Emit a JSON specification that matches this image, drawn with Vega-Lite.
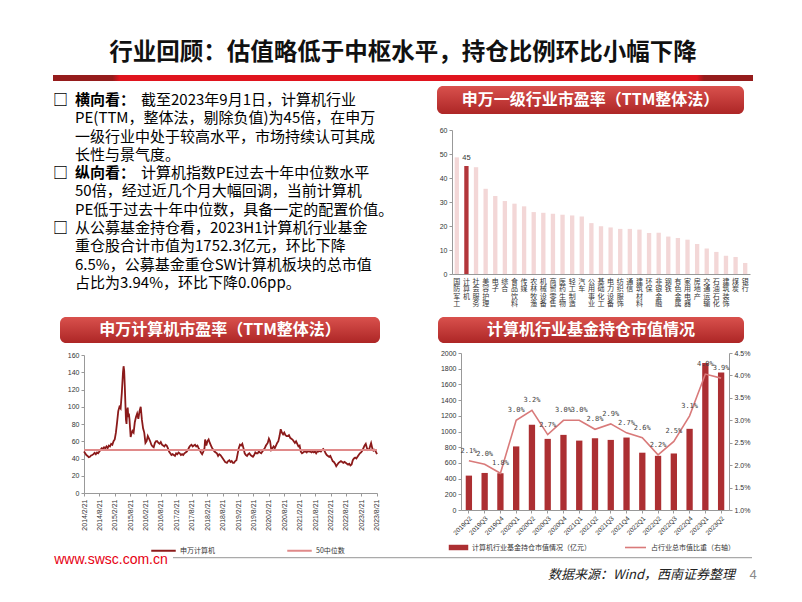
{
  "$schema": "https://vega.github.io/schema/vega-lite/v6.json",
  "padding": {"left": 53, "top": 31, "right": 0, "bottom": 0},
  "background": "white",
  "config": {
    "view": {"stroke": null},
    "font": "Noto Sans CJK SC",
    "axis": {"labelFont": "Liberation Sans", "labelFontSize": 7, "labelColor": "#333", "domainColor": "#999", "tickColor": "#999", "tickSize": 3, "grid": false, "labelOverlap": false},
    "legend": {"labelFont": "Noto Sans CJK SC", "labelFontSize": 7, "labelColor": "#333"}
  },
  "spacing": 0,
  "bounds": "flush",
  "vconcat": [
    {
      "width": 700, "height": 44,
      "data": {"values": [{"t": "行业回顾：估值略低于中枢水平，持仓比例环比小幅下降"}]},
      "mark": {"type": "text", "fontSize": 23.5, "fontWeight": "bold", "color": "#111"},
      "encoding": {"text": {"field": "t"}}
    },
    {
      "width": 700, "height": 6,
      "data": {"values": [{"k": 1}]},
      "mark": {"type": "rect", "color": {"gradient": "linear", "x1": 0, "y1": 0, "x2": 1, "y2": 0, "stops": [
        {"offset": 0, "color": "#951c1c"}, {"offset": 0.085, "color": "#951c1c"}, {"offset": 0.095, "color": "#e0141e"},
        {"offset": 0.92, "color": "#e0141e"}, {"offset": 0.93, "color": "#951c1c"}, {"offset": 1, "color": "#951c1c"}]}},
      "encoding": {}
    },
    {"width": 1, "height": 5, "data": {"values": []}, "mark": "point"},
    {
      "hconcat": [
        {
          "width": 355, "height": 226,
          "data": {"values": [
            {"n": 0, "p": 1, "first": true, "lead": "横向看：", "t": "截至2023年9月1日，计算机行业"},
            {"n": 1, "p": 1, "t": "PE(TTM，整体法，剔除负值)为45倍，在申万"},
            {"n": 2, "p": 1, "t": "一级行业中处于较高水平，市场持续认可其成"},
            {"n": 3, "p": 1, "t": "长性与景气度。"},
            {"n": 4, "p": 2, "first": true, "lead": "纵向看：", "t": "计算机指数PE过去十年中位数水平"},
            {"n": 5, "p": 2, "t": "50倍，经过近几个月大幅回调，当前计算机"},
            {"n": 6, "p": 2, "t": "PE低于过去十年中位数，具备一定的配置价值。"},
            {"n": 7, "p": 3, "first": true, "t": "从公募基金持仓看，2023H1计算机行业基金"},
            {"n": 8, "p": 3, "t": "重仓股合计市值为1752.3亿元，环比下降"},
            {"n": 9, "p": 3, "t": "6.5%，公募基金重仓SW计算机板块的总市值"},
            {"n": 10, "p": 3, "t": "占比为3.94%，环比下降0.06pp。"}
          ]},
          "encoding": {
            "x": {"datum": 0, "type": "quantitative", "scale": {"domain": [0, 1]}, "axis": null},
            "y": {"field": "n", "type": "quantitative", "scale": {"domain": [-0.765, 11.585], "reverse": true, "zero": false}, "axis": null},
            "yOffset": {"field": "p", "type": "quantitative", "scale": {"domain": [1, 2, 3], "range": [0, 11.7, 20.7]}}
          },
          "layer": [
            {"transform": [{"filter": "datum.first"}], "mark": {"type": "text", "align": "left", "fontSize": 15, "fontWeight": "bold", "color": "#000"}, "encoding": {"text": {"value": "□"}}},
            {"transform": [{"filter": "datum.lead"}], "mark": {"type": "text", "align": "left", "dx": 22, "fontSize": 15, "fontWeight": "bold", "color": "#000"}, "encoding": {"text": {"field": "lead"}}},
            {"transform": [{"filter": "datum.lead"}], "mark": {"type": "text", "align": "left", "dx": 88, "fontSize": 15, "color": "#000"}, "encoding": {"text": {"field": "t"}}},
            {"transform": [{"filter": "!datum.lead"}], "mark": {"type": "text", "align": "left", "dx": 22, "fontSize": 15, "color": "#000"}, "encoding": {"text": {"field": "t"}}}
          ]
        },
        {"width": 29, "height": 1, "data": {"values": []}, "mark": "point"},
        {
          "vconcat": [
            {
              "width": 307, "height": 28,
              "data": {"values": [{"t": "申万一级行业市盈率（TTM整体法）"}]},
              "layer": [
                {"mark": {"type": "rect", "cornerRadius": 6, "color": {"gradient": "linear", "x1": 0, "y1": 0, "x2": 0, "y2": 1, "stops": [{"offset": 0, "color": "#d9514d"}, {"offset": 1, "color": "#ad2626"}]}}, "encoding": {}},
                {"mark": {"type": "text", "color": "white", "fontSize": 16, "fontWeight": "bold"}, "encoding": {"text": {"field": "t"}}}
              ]
            },
            {"width": 1, "height": 16, "data": {"values": []}, "mark": "point"},
            {
              "hconcat": [
                {"width": 15, "height": 1, "data": {"values": []}, "mark": "point"},
                {
                  "width": 298, "height": 144,
                  "data": {"values": [
                    {"ind": "国防军工", "pe": 48.6}, {"ind": "计算机", "pe": 45}, {"ind": "社会服务", "pe": 44.5}, {"ind": "美容护理", "pe": 35.5},
                    {"ind": "电子", "pe": 32.5}, {"ind": "综合", "pe": 30.4}, {"ind": "食品饮料", "pe": 29.3}, {"ind": "传媒", "pe": 28.2},
                    {"ind": "农林牧渔", "pe": 25.8}, {"ind": "机械设备", "pe": 25.5}, {"ind": "商贸零售", "pe": 25.1}, {"ind": "医药生物", "pe": 24.7},
                    {"ind": "轻工制造", "pe": 24.4}, {"ind": "汽车", "pe": 24.0}, {"ind": "公用事业", "pe": 21.2}, {"ind": "基础化工", "pe": 19.9},
                    {"ind": "电力设备", "pe": 19.4}, {"ind": "纺织服饰", "pe": 18.8}, {"ind": "通信", "pe": 18.8}, {"ind": "建筑材料", "pe": 18.5},
                    {"ind": "环保", "pe": 17.1}, {"ind": "非银金融", "pe": 17.2}, {"ind": "钢铁", "pe": 15.6}, {"ind": "有色金属", "pe": 15.0},
                    {"ind": "家用电器", "pe": 14.3}, {"ind": "房地产", "pe": 12.5}, {"ind": "交通运输", "pe": 10.6}, {"ind": "石油石化", "pe": 9.2},
                    {"ind": "建筑装饰", "pe": 7.6}, {"ind": "煤炭", "pe": 7.1}, {"ind": "银行", "pe": 4.6}
                  ]},
                  "encoding": {
                    "x": {"field": "ind", "type": "nominal", "sort": null, "title": null,
                      "scale": {"paddingInner": 0.55, "paddingOuter": 0.275},
                      "axis": {"labelAngle": 0, "labelExpr": "split(datum.label, '')", "labelFont": "Noto Sans CJK SC", "labelFontSize": 7, "labelLineHeight": 7.6, "labelBaseline": "top", "ticks": false, "labelPadding": 3}},
                    "y": {"field": "pe", "type": "quantitative", "title": null, "scale": {"domain": [0, 60]}, "axis": {"values": [0, 10, 20, 30, 40, 50, 60]}}
                  },
                  "layer": [
                    {"mark": {"type": "bar"}, "encoding": {"color": {"condition": {"test": "datum.ind === '计算机'", "value": "#b2353a"}, "value": "#f3d7d7"}}},
                    {"transform": [{"filter": "datum.ind === '计算机'"}], "mark": {"type": "text", "baseline": "bottom", "dy": -4, "fontSize": 7.5, "font": "Liberation Sans", "color": "#333"}, "encoding": {"text": {"field": "pe", "format": ".0f"}}}
                  ]
                }
              ],
              "spacing": 0, "bounds": "flush"
            }
          ],
          "spacing": 0, "bounds": "flush"
        }
      ],
      "spacing": 0, "bounds": "flush"
    },
    {"width": 1, "height": 231, "data": {"values": []}, "mark": "point"},
    {
      "hconcat": [
        {"width": 7, "height": 1, "data": {"values": []}, "mark": "point"},
        {
          "vconcat": [
            {
              "width": 320, "height": 26,
              "data": {"values": [{"t": "申万计算机市盈率（TTM整体法）"}]},
              "layer": [
                {"mark": {"type": "rect", "cornerRadius": 6, "color": {"gradient": "linear", "x1": 0, "y1": 0, "x2": 0, "y2": 1, "stops": [{"offset": 0, "color": "#d9514d"}, {"offset": 1, "color": "#ad2626"}]}}, "encoding": {}},
                {"mark": {"type": "text", "color": "white", "fontSize": 16, "fontWeight": "bold"}, "encoding": {"text": {"field": "t"}}}
              ]
            },
            {"width": 1, "height": 12, "data": {"values": []}, "mark": "point"},
            {
              "hconcat": [
                {"width": 24, "height": 1, "data": {"values": []}, "mark": "point"},
                {
                  "width": 293, "height": 138,
                  "data": {"values": [
                    {"d":"2014-02-21","v":48},{"d":"2014-03-07","v":46},{"d":"2014-03-21","v":44},{"d":"2014-04-04","v":43},{"d":"2014-04-18","v":41.5},{"d":"2014-05-02","v":42},{"d":"2014-05-16","v":43.5},{"d":"2014-05-30","v":44},{"d":"2014-06-13","v":45},{"d":"2014-06-27","v":46.5},{"d":"2014-07-11","v":45},{"d":"2014-07-25","v":47},{"d":"2014-08-08","v":46},{"d":"2014-08-22","v":48},{"d":"2014-09-05","v":50},{"d":"2014-09-19","v":52},{"d":"2014-10-03","v":51},{"d":"2014-10-17","v":53},{"d":"2014-10-31","v":52},{"d":"2014-11-14","v":54},{"d":"2014-11-28","v":52},{"d":"2014-12-12","v":55},{"d":"2014-12-26","v":54},
                    {"d":"2015-01-09","v":57},{"d":"2015-01-23","v":56},{"d":"2015-02-06","v":60},{"d":"2015-02-20","v":62},{"d":"2015-03-06","v":70},{"d":"2015-03-20","v":82},{"d":"2015-04-03","v":95},{"d":"2015-04-17","v":100},{"d":"2015-05-01","v":98},{"d":"2015-05-15","v":116},{"d":"2015-05-29","v":140},{"d":"2015-06-05","v":147},{"d":"2015-06-12","v":142},{"d":"2015-06-19","v":125},{"d":"2015-06-26","v":105},{"d":"2015-07-03","v":85},{"d":"2015-07-10","v":80},{"d":"2015-07-17","v":95},{"d":"2015-07-24","v":99},{"d":"2015-07-31","v":88},{"d":"2015-08-07","v":92},{"d":"2015-08-14","v":85},{"d":"2015-08-21","v":75},{"d":"2015-08-28","v":65},{"d":"2015-09-04","v":68},{"d":"2015-09-18","v":72},{"d":"2015-10-02","v":70},{"d":"2015-10-16","v":82},{"d":"2015-10-30","v":88},{"d":"2015-11-13","v":92},{"d":"2015-11-27","v":86},{"d":"2015-12-11","v":95},{"d":"2015-12-25","v":100},
                    {"d":"2016-01-08","v":85},{"d":"2016-01-22","v":75},{"d":"2016-02-05","v":70},{"d":"2016-02-19","v":58},{"d":"2016-03-04","v":60},{"d":"2016-03-18","v":66},{"d":"2016-04-01","v":63},{"d":"2016-04-15","v":60},{"d":"2016-04-29","v":56},{"d":"2016-05-13","v":54},{"d":"2016-05-27","v":53},{"d":"2016-06-10","v":58},{"d":"2016-06-24","v":60},{"d":"2016-07-08","v":60},{"d":"2016-07-22","v":58},{"d":"2016-08-05","v":57},{"d":"2016-08-19","v":59},{"d":"2016-09-02","v":56},{"d":"2016-09-16","v":55},{"d":"2016-09-30","v":54},{"d":"2016-10-14","v":56},{"d":"2016-10-28","v":55},{"d":"2016-11-11","v":52},{"d":"2016-11-25","v":48},{"d":"2016-12-09","v":46},{"d":"2016-12-23","v":44},
                    {"d":"2017-01-06","v":45},{"d":"2017-01-20","v":44},{"d":"2017-02-03","v":43},{"d":"2017-02-17","v":46},{"d":"2017-03-03","v":45},{"d":"2017-03-17","v":47},{"d":"2017-03-31","v":46},{"d":"2017-04-14","v":44},{"d":"2017-04-28","v":45},{"d":"2017-05-12","v":44},{"d":"2017-05-26","v":46},{"d":"2017-06-09","v":47},{"d":"2017-06-23","v":48},{"d":"2017-07-07","v":50},{"d":"2017-07-21","v":53},{"d":"2017-08-04","v":55},{"d":"2017-08-18","v":56},{"d":"2017-09-01","v":54},{"d":"2017-09-15","v":55},{"d":"2017-09-29","v":56},{"d":"2017-10-13","v":54},{"d":"2017-10-27","v":55},{"d":"2017-11-10","v":52},{"d":"2017-11-24","v":50},{"d":"2017-12-08","v":47},{"d":"2017-12-22","v":45},
                    {"d":"2018-01-05","v":48},{"d":"2018-01-19","v":52},{"d":"2018-01-26","v":62},{"d":"2018-02-09","v":55},{"d":"2018-02-23","v":60},{"d":"2018-03-09","v":62},{"d":"2018-03-23","v":58},{"d":"2018-04-06","v":55},{"d":"2018-04-20","v":52},{"d":"2018-05-04","v":50},{"d":"2018-05-18","v":48},{"d":"2018-06-01","v":47},{"d":"2018-06-15","v":46},{"d":"2018-06-29","v":43},{"d":"2018-07-13","v":45},{"d":"2018-07-27","v":44},{"d":"2018-08-10","v":42},{"d":"2018-08-24","v":40},{"d":"2018-09-07","v":38},{"d":"2018-09-21","v":36},{"d":"2018-10-12","v":35},{"d":"2018-10-26","v":37},{"d":"2018-11-09","v":38},{"d":"2018-11-23","v":36},{"d":"2018-12-07","v":37},{"d":"2018-12-21","v":35},
                    {"d":"2019-01-04","v":35},{"d":"2019-01-18","v":37},{"d":"2019-02-01","v":38},{"d":"2019-02-15","v":45},{"d":"2019-03-01","v":52},{"d":"2019-03-15","v":56},{"d":"2019-03-29","v":55},{"d":"2019-04-12","v":57},{"d":"2019-04-26","v":52},{"d":"2019-05-10","v":46},{"d":"2019-05-24","v":44},{"d":"2019-06-07","v":43},{"d":"2019-06-21","v":45},{"d":"2019-07-05","v":46},{"d":"2019-07-19","v":44},{"d":"2019-08-02","v":43},{"d":"2019-08-16","v":42},{"d":"2019-08-30","v":44},{"d":"2019-09-13","v":47},{"d":"2019-09-27","v":46},{"d":"2019-10-11","v":46},{"d":"2019-10-25","v":48},{"d":"2019-11-08","v":47},{"d":"2019-11-22","v":46},{"d":"2019-12-06","v":48},{"d":"2019-12-20","v":50},
                    {"d":"2020-01-03","v":52},{"d":"2020-01-17","v":55},{"d":"2020-02-07","v":58},{"d":"2020-02-21","v":63},{"d":"2020-03-06","v":60},{"d":"2020-03-20","v":50},{"d":"2020-04-03","v":52},{"d":"2020-04-17","v":54},{"d":"2020-05-01","v":52},{"d":"2020-05-15","v":55},{"d":"2020-05-29","v":58},{"d":"2020-06-12","v":60},{"d":"2020-06-26","v":66},{"d":"2020-07-10","v":74},{"d":"2020-07-24","v":70},{"d":"2020-08-07","v":68},{"d":"2020-08-21","v":70},{"d":"2020-09-04","v":67},{"d":"2020-09-18","v":66},{"d":"2020-10-02","v":66},{"d":"2020-10-16","v":67},{"d":"2020-10-30","v":64},{"d":"2020-11-13","v":63},{"d":"2020-11-27","v":62},{"d":"2020-12-11","v":60},{"d":"2020-12-25","v":58},
                    {"d":"2021-01-08","v":60},{"d":"2021-01-22","v":57},{"d":"2021-02-05","v":54},{"d":"2021-02-19","v":55},{"d":"2021-03-05","v":48},{"d":"2021-03-19","v":46},{"d":"2021-04-02","v":47},{"d":"2021-04-16","v":48},{"d":"2021-04-30","v":48},{"d":"2021-05-14","v":47},{"d":"2021-05-28","v":49},{"d":"2021-06-11","v":48},{"d":"2021-06-25","v":48},{"d":"2021-07-09","v":47},{"d":"2021-07-23","v":48},{"d":"2021-08-06","v":47},{"d":"2021-08-20","v":48},{"d":"2021-09-03","v":46},{"d":"2021-09-17","v":48},{"d":"2021-10-01","v":48},{"d":"2021-10-15","v":49},{"d":"2021-10-29","v":48},{"d":"2021-11-12","v":50},{"d":"2021-11-26","v":51},{"d":"2021-12-10","v":49},{"d":"2021-12-24","v":46},
                    {"d":"2022-01-07","v":44},{"d":"2022-01-21","v":43},{"d":"2022-02-04","v":42},{"d":"2022-02-18","v":43},{"d":"2022-03-04","v":40},{"d":"2022-03-18","v":37},{"d":"2022-04-01","v":36},{"d":"2022-04-15","v":34},{"d":"2022-04-29","v":31},{"d":"2022-05-13","v":33},{"d":"2022-05-27","v":35},{"d":"2022-06-10","v":36},{"d":"2022-06-24","v":37},{"d":"2022-07-08","v":36},{"d":"2022-07-22","v":35},{"d":"2022-08-05","v":36},{"d":"2022-08-19","v":35},{"d":"2022-09-02","v":34},{"d":"2022-09-16","v":33},{"d":"2022-09-30","v":34},{"d":"2022-10-14","v":32},{"d":"2022-10-28","v":33},{"d":"2022-11-11","v":38},{"d":"2022-11-25","v":40},{"d":"2022-12-09","v":41},{"d":"2022-12-23","v":40},
                    {"d":"2023-01-06","v":42},{"d":"2023-01-20","v":44},{"d":"2023-02-03","v":46},{"d":"2023-02-17","v":47},{"d":"2023-03-03","v":49},{"d":"2023-03-17","v":52},{"d":"2023-03-31","v":55},{"d":"2023-04-14","v":57},{"d":"2023-04-28","v":52},{"d":"2023-05-12","v":50},{"d":"2023-05-26","v":51},{"d":"2023-06-09","v":56},{"d":"2023-06-16","v":58},{"d":"2023-06-30","v":52},{"d":"2023-07-14","v":49},{"d":"2023-07-28","v":50},{"d":"2023-08-11","v":48},{"d":"2023-08-25","v":45}
                  ]},
                  "layer": [
                    {
                      "mark": {"type": "line", "strokeWidth": 1.8},
                      "encoding": {
                        "x": {"field": "d", "type": "temporal", "title": null,
                          "scale": {"type": "utc", "domain": [{"year": 2014, "month": 2, "date": 21, "utc": true}, {"year": 2023, "month": 8, "date": 25, "utc": true}]},
                          "axis": {"labelAngle": -90, "labelExpr": "utcFormat(datum.value, '%Y/%-m/%-d')", "labelPadding": 3,
                            "values": [
                              {"year": 2014, "month": 2, "date": 21, "utc": true}, {"year": 2014, "month": 8, "date": 21, "utc": true},
                              {"year": 2015, "month": 2, "date": 21, "utc": true}, {"year": 2015, "month": 8, "date": 21, "utc": true},
                              {"year": 2016, "month": 2, "date": 21, "utc": true}, {"year": 2016, "month": 8, "date": 21, "utc": true},
                              {"year": 2017, "month": 2, "date": 21, "utc": true}, {"year": 2017, "month": 8, "date": 21, "utc": true},
                              {"year": 2018, "month": 2, "date": 21, "utc": true}, {"year": 2018, "month": 8, "date": 21, "utc": true},
                              {"year": 2019, "month": 2, "date": 21, "utc": true}, {"year": 2019, "month": 8, "date": 21, "utc": true},
                              {"year": 2020, "month": 2, "date": 21, "utc": true}, {"year": 2020, "month": 8, "date": 21, "utc": true},
                              {"year": 2021, "month": 2, "date": 21, "utc": true}, {"year": 2021, "month": 8, "date": 21, "utc": true},
                              {"year": 2022, "month": 2, "date": 21, "utc": true}, {"year": 2022, "month": 8, "date": 21, "utc": true},
                              {"year": 2023, "month": 2, "date": 21, "utc": true}, {"year": 2023, "month": 8, "date": 21, "utc": true}
                            ]}},
                        "y": {"field": "v", "type": "quantitative", "title": null, "scale": {"domain": [0, 160]}, "axis": {"values": [0, 20, 40, 60, 80, 100, 120, 140, 160], "labelOverlap": false}},
                        "color": {"datum": "申万计算机", "type": "nominal",
                          "scale": {"domain": ["申万计算机", "50中位数"], "range": ["#8b1a1a", "#e08a8a"]},
                          "legend": {"title": null, "orient": "none", "legendX": 97, "legendY": 506, "columns": 2, "symbolType": "stroke", "symbolSize": 600, "symbolStrokeWidth": 2, "columnPadding": 68, "labelOffset": 3}}
                      }
                    },
                    {
                      "mark": {"type": "rule", "strokeWidth": 1.2},
                      "encoding": {"y": {"datum": 50, "type": "quantitative", "axis": {"values": [0, 20, 40, 60, 80, 100, 120, 140, 160], "labelOverlap": false}}, "color": {"datum": "50中位数", "type": "nominal"}}
                    }
                  ]
                }
              ],
              "spacing": 0, "bounds": "flush"
            }
          ],
          "spacing": 0, "bounds": "flush"
        },
        {"width": 378, "height": 1, "data": {"values": []}, "mark": "point"},
        {
          "vconcat": [
            {
              "width": 306, "height": 26,
              "data": {"values": [{"t": "计算机行业基金持仓市值情况"}]},
              "layer": [
                {"mark": {"type": "rect", "cornerRadius": 6, "color": {"gradient": "linear", "x1": 0, "y1": 0, "x2": 0, "y2": 1, "stops": [{"offset": 0, "color": "#d9514d"}, {"offset": 1, "color": "#ad2626"}]}}, "encoding": {}},
                {"mark": {"type": "text", "color": "white", "fontSize": 16, "fontWeight": "bold"}, "encoding": {"text": {"field": "t"}}}
              ]
            },
            {"width": 1, "height": 10, "data": {"values": []}, "mark": "point"},
            {
              "hconcat": [
                {"width": 23, "height": 1, "data": {"values": []}, "mark": "point"},
                {
                  "width": 268, "height": 157,
                  "data": {"values": [
                    {"q": "2019Q2", "v": 438, "r": 0.021}, {"q": "2019Q3", "v": 472, "r": 0.0202}, {"q": "2019Q4", "v": 468, "r": 0.0182},
                    {"q": "2020Q1", "v": 810, "r": 0.030}, {"q": "2020Q2", "v": 1086, "r": 0.0322}, {"q": "2020Q3", "v": 906, "r": 0.0268},
                    {"q": "2020Q4", "v": 957, "r": 0.030}, {"q": "2021Q1", "v": 884, "r": 0.030}, {"q": "2021Q2", "v": 914, "r": 0.028},
                    {"q": "2021Q3", "v": 893, "r": 0.0292}, {"q": "2021Q4", "v": 923, "r": 0.0272}, {"q": "2022Q1", "v": 730, "r": 0.0261},
                    {"q": "2022Q2", "v": 690, "r": 0.0223}, {"q": "2022Q3", "v": 720, "r": 0.0253}, {"q": "2022Q4", "v": 1034, "r": 0.031},
                    {"q": "2023Q1", "v": 1874, "r": 0.0403}, {"q": "2023Q2", "v": 1752.3, "r": 0.0394}
                  ]},
                  "encoding": {
                    "x": {"field": "q", "type": "ordinal", "sort": null, "title": null,
                      "scale": {"paddingInner": 0.6, "paddingOuter": 0.3},
                      "axis": {"labelAngle": -45, "labelFontSize": 6.5, "ticks": true}}
                  },
                  "layer": [
                    {
                      "mark": {"type": "bar"},
                      "encoding": {
                        "y": {"field": "v", "type": "quantitative", "title": null, "scale": {"domain": [0, 2000]}, "axis": {"orient": "left", "format": "d", "values": [0, 200, 400, 600, 800, 1000, 1200, 1400, 1600, 1800, 2000]}},
                        "fill": {"datum": "计算机行业基金持仓市值情况（亿元）", "type": "nominal", "scale": {"range": ["#ac2f32"]},
                          "legend": {"title": null, "orient": "none", "legendX": 395, "legendY": 506, "symbolType": "M-1,-0.28H1V0.28H-1Z", "symbolSize": 380, "labelOffset": 3}}
                      }
                    },
                    {
                      "encoding": {
                        "y": {"field": "r", "type": "quantitative", "title": null, "scale": {"domain": [0.01, 0.045], "zero": false},
                          "axis": {"orient": "right", "format": ".1%", "values": [0.01, 0.015, 0.02, 0.025, 0.03, 0.035, 0.04, 0.045]}}
                      },
                      "layer": [
                        {"mark": {"type": "line", "strokeWidth": 1.6},
                          "encoding": {"stroke": {"datum": "占行业总市值比重（右轴）", "type": "nominal", "scale": {"range": ["#d97a7a"]},
                            "legend": {"title": null, "orient": "none", "legendX": 571, "legendY": 505, "symbolType": "stroke", "symbolSize": 440, "symbolStrokeWidth": 1.6, "labelOffset": 4}}}},
                        {"mark": {"type": "text", "dy": -10, "fontSize": 7, "font": "DejaVu Sans Mono", "color": "#444"},
                          "encoding": {"text": {"field": "r", "format": ".1%"}}}
                      ]
                    }
                  ],
                  "resolve": {"scale": {"y": "independent"}}
                }
              ],
              "spacing": 0, "bounds": "flush"
            }
          ],
          "spacing": 0, "bounds": "flush"
        }
      ],
      "spacing": 0, "bounds": "flush"
    },
    {"width": 1, "height": 240, "data": {"values": []}, "mark": "point"},
    {
      "hconcat": [
        {
          "width": 116, "height": 6,
          "data": {"values": [{"t": "www.swsc.com.cn"}]},
          "mark": {"type": "text", "fontSize": 14, "font": "Liberation Sans", "color": "#e60012"},
          "encoding": {"text": {"field": "t"}}
        },
        {"width": 4, "height": 1, "data": {"values": []}, "mark": "point"},
        {
          "width": 579, "height": 1.2,
          "data": {"values": [{"k": 1}]},
          "mark": {"type": "rect", "color": "#aaaaaa"},
          "encoding": {}
        }
      ],
      "spacing": 0, "bounds": "flush"
    },
    {"width": 1, "height": 17, "data": {"values": []}, "mark": "point"},
    {
      "hconcat": [
        {
          "width": 682, "height": 2,
          "data": {"values": [{"t": "数据来源：Wind，西南证券整理"}]},
          "mark": {"type": "text", "align": "right", "fontSize": 13, "fontStyle": "italic", "color": "#222"},
          "encoding": {"x": {"value": "width"}, "text": {"field": "t"}}
        },
        {
          "width": 36, "height": 2,
          "data": {"values": [{"t": "4"}]},
          "mark": {"type": "text", "fontSize": 13, "font": "Liberation Sans", "color": "#888"},
          "encoding": {"text": {"field": "t"}}
        }
      ],
      "spacing": 0, "bounds": "flush"
    }
  ]
}
